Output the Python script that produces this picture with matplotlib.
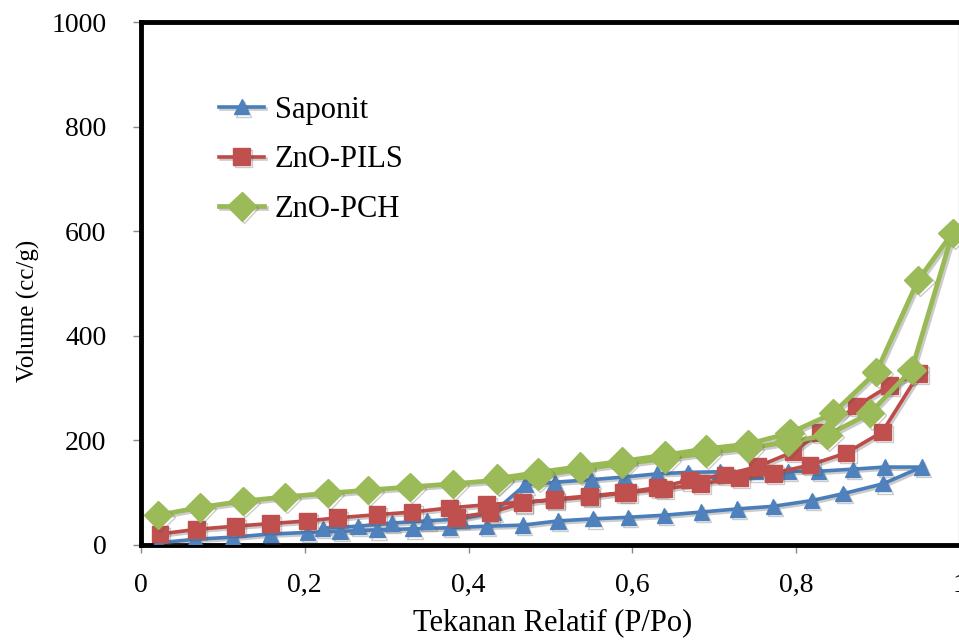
import numpy as np
import matplotlib
matplotlib.use('Agg')
import matplotlib.pyplot as plt
import matplotlib.patheffects as pe

plt.rcParams['font.family'] = ['Liberation Serif', 'DejaVu Serif']

# data (adsorption up, then desorption back down)
x_sap = [0.021, 0.066, 0.112, 0.158, 0.203, 0.243, 0.288, 0.332, 0.377, 0.422, 0.466,
         0.509, 0.552, 0.595, 0.639, 0.684, 0.728, 0.772, 0.819, 0.857, 0.906, 0.953,
         0.908, 0.869, 0.827, 0.790, 0.750, 0.707, 0.668, 0.630, 0.590, 0.550, 0.505,
         0.469, 0.430, 0.390, 0.349, 0.306, 0.265, 0.222]
y_sap = [4, 11, 15, 21, 24, 26, 29, 31, 33, 36, 38,
         46, 50, 53, 57, 63, 69, 74, 85, 98, 117, 149,
         149, 145, 141, 141, 140, 140, 139, 136, 130, 125, 120,
         115, 62, 50, 46, 42, 36, 32]

x_pils = [0.023, 0.068, 0.115, 0.158, 0.203, 0.240, 0.288, 0.331, 0.377, 0.422, 0.466,
          0.505, 0.548, 0.594, 0.638, 0.683, 0.731, 0.772, 0.817, 0.861, 0.905, 0.950,
          0.914, 0.874, 0.829, 0.796, 0.753, 0.713, 0.670, 0.631, 0.589, 0.548, 0.505,
          0.466, 0.426, 0.385]
y_pils = [21, 30, 36, 41, 46, 52, 58, 63, 71, 77, 82,
          86, 92, 100, 107, 117, 128, 137, 153, 176, 216, 328,
          305, 266, 215, 178, 150, 134, 124, 110, 100, 94, 88,
          80, 62, 53]

x_pch = [0.021, 0.072, 0.125, 0.176, 0.228, 0.277, 0.328, 0.381, 0.435, 0.485,
         0.536, 0.587, 0.640, 0.690, 0.741, 0.790, 0.838, 0.890, 0.941, 0.991,
         0.949, 0.898, 0.845, 0.792, 0.741, 0.690, 0.640, 0.587, 0.536, 0.485, 0.435]
y_pch = [57, 72, 84, 92, 99, 105, 111, 117, 124, 132,
         145, 155, 165, 176, 185, 197, 210, 252, 335, 597,
         507, 331, 252, 214, 193, 184, 172, 160, 150, 139, 127]

xticks = [0, 0.2, 0.4, 0.6, 0.8, 1]
xlabels = ['0', '0,2', '0,4', '0,6', '0,8', '1']
yticks = [0, 200, 400, 600, 800, 1000]

fig = plt.figure(figsize=(9.59, 6.42), dpi=100)
ax = fig.add_axes([141/959, 97/642, 819/959, 523/642])

shadow = [pe.SimpleLineShadow(offset=(1.5, -1.5), alpha=0.3, shadow_color='#555555'), pe.Normal()]

ax.plot(x_sap, y_sap, color='#4a7ebb', lw=2.6, marker='^', ms=11,
        mfc='#4f81bd', mec='#4f81bd', label='Saponit', path_effects=shadow, zorder=3)
ax.plot(x_pils, y_pils, color='#be4b48', lw=2.6, marker='s', ms=12,
        mfc='#c0504d', mec='#c0504d', label='ZnO-PILS', path_effects=shadow, zorder=4)
ax.plot(x_pch, y_pch, color='#98b954', lw=3.4, marker='D', ms=14.5,
        mfc='#9bbb59', mec='#9bbb59', label='ZnO-PCH', path_effects=shadow, zorder=5)

ax.set_xlim(0, 1)
ax.set_ylim(0, 1000)
ax.set_xticks(xticks)
ax.set_xticklabels(xlabels)
ax.set_yticks(yticks)

for s in ['left', 'top', 'bottom']:
    ax.spines[s].set_linewidth(3.5)
    ax.spines[s].set_color('black')
ax.spines['right'].set_linewidth(1.5)

ax.tick_params(direction='out', length=6, width=1, color='#888888', labelsize=20)
ax.tick_params(axis='y', pad=19)
ax.tick_params(axis='x', pad=14)

ax.set_xlabel('Tekanan Relatif (P/Po)', fontsize=22)
ax.set_ylabel('Volume (cc/g)', fontsize=18)
ax.xaxis.set_label_coords(0.502, -0.12)
ax.yaxis.set_label_coords(-0.123, 0.447)

ax.legend(loc='upper left', bbox_to_anchor=(0.062, 0.912), frameon=False,
          fontsize=22, handlelength=1.47, handletextpad=0.35, labelspacing=0.68)

fig.savefig('out.png', dpi=100)
